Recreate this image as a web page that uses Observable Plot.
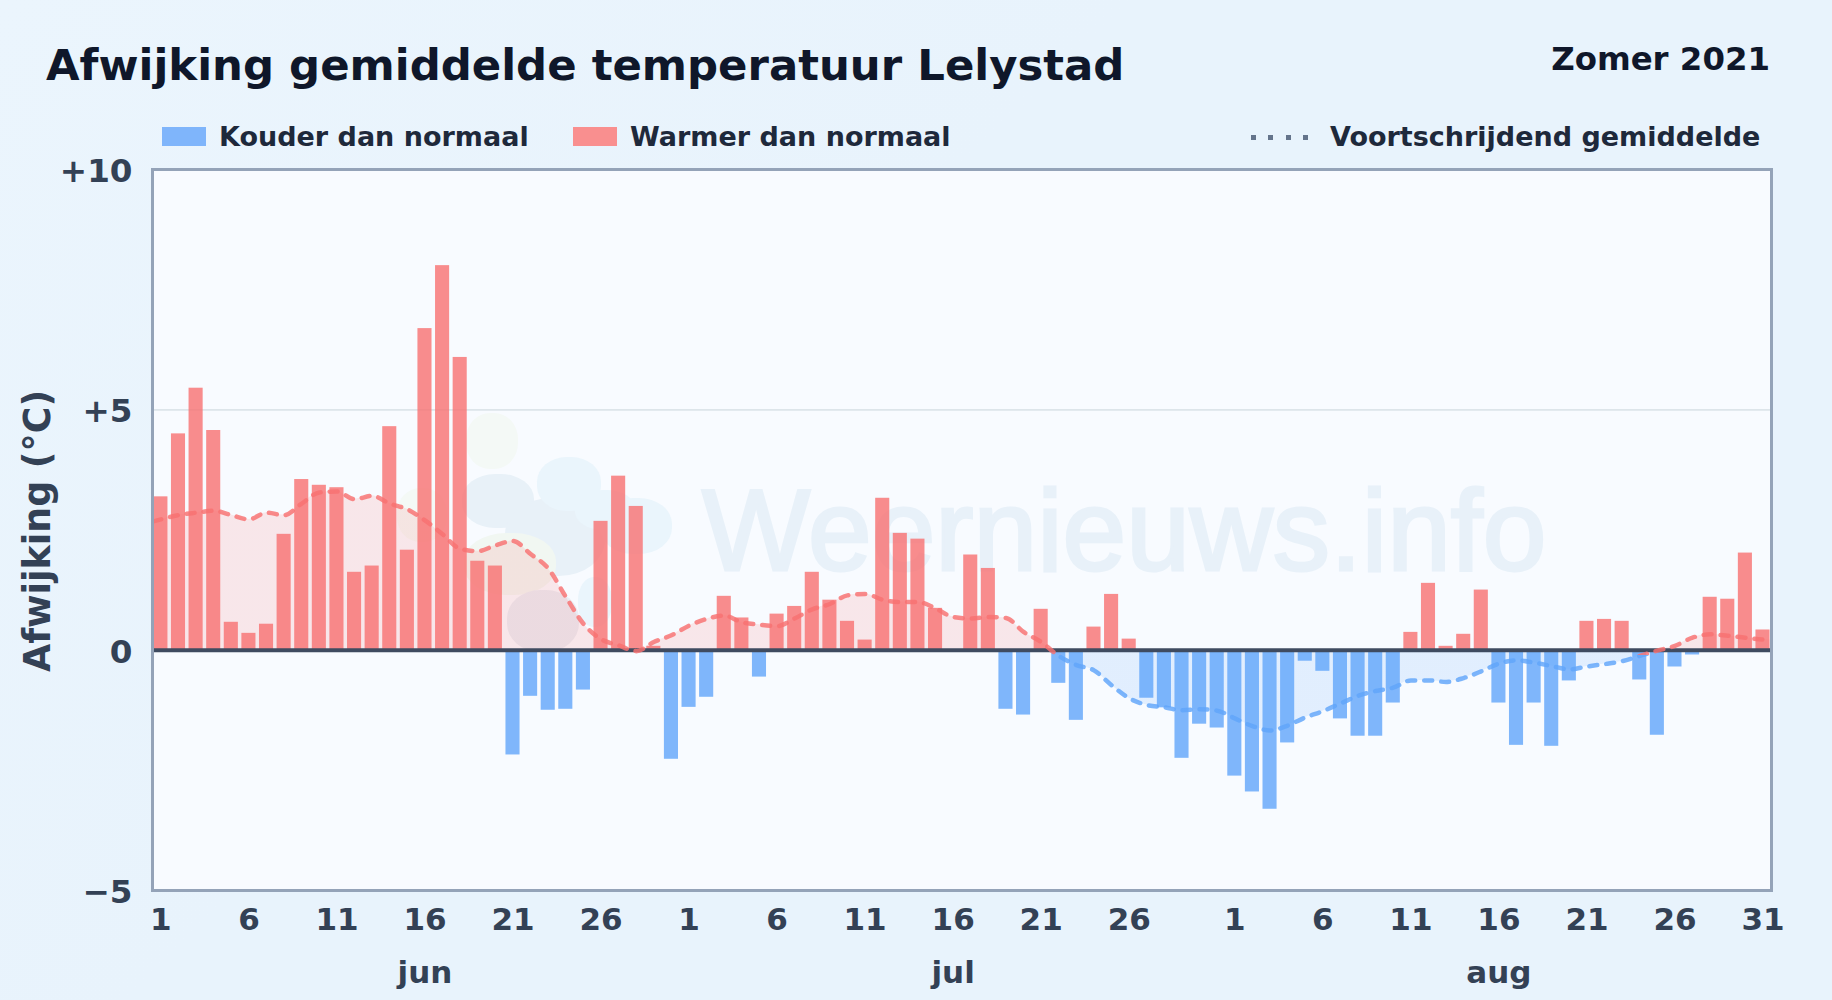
<!DOCTYPE html>
<html lang="nl">
<head>
<meta charset="utf-8">
<title>Afwijking gemiddelde temperatuur Lelystad</title>
<script src="https://cdn.jsdelivr.net/npm/d3@7"></script>
<script src="https://cdn.jsdelivr.net/npm/@observablehq/plot@0.6"></script>
<style>
  html, body { margin: 0; padding: 0; }
  #page { position: relative; width: 1832px; height: 1000px; overflow: hidden;
    font-family: "DejaVu Sans", sans-serif; font-weight: 700;
    background: linear-gradient(135deg, #ebf5fd 0%, #e8f3fc 40%, #e8f3fc 100%); }
  #page > div { position: absolute; white-space: nowrap; }
  #plotbg { left: 153px; top: 169px; width: 1618px; height: 721px; background: #f8fbff; }
  .blob { border-radius: 46%; }
  #wm { left: 702px; top: 466px; font-family: "Liberation Sans", sans-serif; font-size: 114.5px; line-height: 128px; color: #e8f1f9; font-weight: 400; -webkit-text-stroke: 3px #e8f1f9; }
  #title { left: 46px; top: 38px; font-size: 43.4px; line-height: 54px; color: #0f172a; }
  #season { right: 62px; top: 40px; font-size: 32.4px; line-height: 38px; color: #0f172a; }
  .lg { top: 120px; font-size: 27px; line-height: 34px; color: #1e293b; }
  .sw { top: 127px; width: 44px; height: 19px; }
  #dots { left: 1251px; top: 135px; width: 57px; height: 4.5px; background: repeating-linear-gradient(90deg, #64748b 0 5px, transparent 5px 17.3px); }
  #plot { left: 0; top: 0; }
  #ylab { left: 38px; top: 531px; font-size: 36.4px; line-height: 42px; color: #334155; transform: translate(-50%, -50%) rotate(-90deg); }
</style>
</head>
<body>
<div id="page">
  <div id="plotbg"></div>
  <div class="blob" style="left:466px;top:413px;width:52px;height:56px;background:#f4f9f6"></div>
  <div class="blob" style="left:397px;top:488px;width:50px;height:54px;background:#f4f9f6"></div>
  <div class="blob" style="left:462px;top:474px;width:72px;height:54px;background:#e8f1f8"></div>
  <div class="blob" style="left:505px;top:498px;width:100px;height:78px;background:#e8f1f8"></div>
  <div class="blob" style="left:537px;top:457px;width:64px;height:54px;background:#eaf5fc"></div>
  <div class="blob" style="left:575px;top:490px;width:60px;height:40px;background:#eaf5fc"></div>
  <div class="blob" style="left:600px;top:498px;width:72px;height:56px;background:#eaf5fc"></div>
  <div class="blob" style="left:464px;top:533px;width:92px;height:62px;background:#f1f7f2"></div>
  <div class="blob" style="left:507px;top:590px;width:72px;height:62px;background:#e9edf4"></div>
  <div class="blob" style="left:578px;top:577px;width:34px;height:50px;background:#eaf5fc"></div>
  <div id="wm">Weernieuws.info</div>
  <div id="plot"></div>
  <div id="title">Afwijking gemiddelde temperatuur Lelystad</div>
  <div id="season">Zomer 2021</div>
  <div class="sw" style="left:162px;background:#7fb5fb"></div>
  <div class="lg" style="left:219px">Kouder dan normaal</div>
  <div class="sw" style="left:573px;background:#f98f8f"></div>
  <div class="lg" style="left:630px">Warmer dan normaal</div>
  <div id="dots"></div>
  <div class="lg" style="left:1330px">Voortschrijdend gemiddelde</div>
  <div id="ylab">Afwijking (°C)</div>
</div>
<script>
const anomaly = [
  3.19, 4.50, 5.45, 4.57, 0.58, 0.35, 0.54, 2.41, 3.55, 3.43,
  3.38, 1.62, 1.75, 4.65, 2.08, 6.69, 8.00, 6.09, 1.85, 1.75,
  -2.18, -0.96, -1.25, -1.23, -0.83, 2.68, 3.62, 2.99, 0.08, -2.27,
  -1.19, -0.98, 1.12, 0.67, -0.56, 0.75, 0.91, 1.62, 1.04, 0.60,
  0.21, 3.16, 2.43, 2.31, 0.87, 0, 1.98, 1.70, -1.23, -1.35,
  0.85, -0.69, -1.46, 0.48, 1.16, 0.23, -1.00, -1.20, -2.25, -1.54,
  -1.62, -2.62, -2.95, -3.31, -1.93, -0.23, -0.44, -1.43, -1.79, -1.79,
  -1.10, 0.37, 1.39, 0.08, 0.33, 1.25, -1.10, -1.98, -1.10, -2.00,
  -0.64, 0.60, 0.64, 0.60, -0.62, -1.77, -0.35, -0.10, 1.10, 1.06,
  2.02, 0.42
];
const rolling = [
  2.72, 2.81, 2.86, 2.90, 2.81, 2.72, 2.86, 2.81, 3.05, 3.28,
  3.30, 3.14, 3.21, 3.05, 2.93, 2.70, 2.41, 2.11, 2.06, 2.18,
  2.27, 2.00, 1.70, 1.11, 0.55, 0.23, 0.10, -0.02, 0.17, 0.31,
  0.51, 0.65, 0.72, 0.58, 0.53, 0.50, 0.66, 0.85, 0.96, 1.14,
  1.17, 1.05, 1.00, 1.00, 0.87, 0.69, 0.66, 0.69, 0.67, 0.38,
  0.17, -0.12, -0.31, -0.42, -0.73, -1.00, -1.14, -1.19, -1.25, -1.23,
  -1.26, -1.42, -1.58, -1.67, -1.57, -1.40, -1.27, -1.11, -0.95, -0.85,
  -0.78, -0.63, -0.63, -0.66, -0.58, -0.44, -0.28, -0.21, -0.26, -0.33,
  -0.40, -0.34, -0.29, -0.23, -0.12, -0.01, 0.09, 0.26, 0.33, 0.30,
  0.26, 0.22
];
const rollingLead = 2.68, rollingTail = 0.21;
const tickIndex = [0, 5, 10, 15, 20, 25, 30, 35, 40, 45, 50, 55, 61, 66, 71, 76, 81, 86, 91];
const tickLabels = ["1", "6", "11", "16", "21", "26", "1", "6", "11", "16", "21", "26", "1", "6", "11", "16", "21", "26", "31"];
const monthNames = ["jun", "jul", "aug"];
const monthIndex = [15, 45, 76];
const yTicks = [-5, 0, 5, 10];
const xDomain = [-0.42, 91.54];
const lineEnd = 91.4;

const bars = anomaly.map((v, i) => ({i, v}));
const roll = [
  {i: xDomain[0], v: rollingLead},
  ...rolling.map((v, i) => ({i, v})),
  {i: lineEnd, v: rollingTail}
];
const months = monthNames.map((name, k) => ({name, i: monthIndex[k]}));
const RED = "#f87171", BLUE = "#60a5fa";

function gradients(index, {y}, values, dim) {
  const defs = d3.create("svg:defs");
  const add = (id, at) => {
    const o = y(at) / dim.height;
    const g = defs.append("linearGradient").attr("id", id)
      .attr("gradientUnits", "userSpaceOnUse")
      .attr("x1", 0).attr("x2", 0).attr("y1", 0).attr("y2", dim.height);
    g.append("stop").attr("offset", o).attr("stop-color", RED);
    g.append("stop").attr("offset", o).attr("stop-color", BLUE);
  };
  add("rollFill", 0);
  add("rollStroke", -0.1);
  return defs.node();
}

const chart = Plot.plot({
  width: 1832, height: 1000,
  marginLeft: 153, marginRight: 60, marginTop: 169, marginBottom: 110,
  style: {background: "transparent", fontFamily: "DejaVu Sans", overflow: "visible"},
  x: {type: "linear", domain: xDomain},
  y: {domain: [-5, 10]},
  marks: [
    gradients,
    Plot.ruleY([5], {stroke: "#dde5ea", strokeWidth: 1.8}),
    Plot.areaY(roll, {x: "i", y1: 0, y2: "v", fill: "url(#rollFill)", fillOpacity: 0.15, curve: "monotone-x"}),
    Plot.rectY(bars, {
      x1: d => d.i - 0.4, x2: d => d.i + 0.4, y1: 0, y2: "v",
      fill: d => d.v >= 0 ? RED : BLUE, fillOpacity: 0.8
    }),
    Plot.ruleY([0], {stroke: "#3f4b60", strokeWidth: 4}),
    Plot.line(roll, {x: "i", y: "v", stroke: "url(#rollStroke)", strokeWidth: 4.5, strokeOpacity: 0.82,
      strokeDasharray: "8 9", strokeLinecap: "round", curve: "monotone-x"}),
    Plot.frame({stroke: "#94a3b8", strokeWidth: 3, dx: -1}),
    Plot.axisY({ticks: yTicks, tickSize: 0, tickPadding: 21, fontSize: 32.6, fontWeight: 700, fill: "#334155", label: null, dy: 2,
      tickFormat: d => d > 0 ? "+" + d : d < 0 ? "\u2212" + (-d) : "0"}),
    Plot.axisX({ticks: tickIndex, tickSize: 0, tickPadding: 17, fontSize: 31, fontWeight: 700, fill: "#334155", label: null,
      tickFormat: d => tickLabels[tickIndex.indexOf(d)]}),
    Plot.text(months, {x: "i", text: "name", frameAnchor: "bottom", dy: 92, fontSize: 31, fontWeight: 700, fill: "#334155"})
  ]
});
document.getElementById("plot").append(chart);
</script>
</body>
</html>
